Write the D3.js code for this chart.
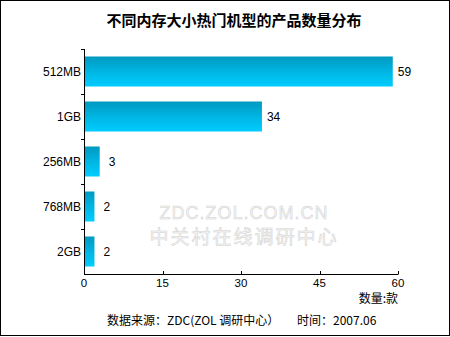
<!DOCTYPE html>
<html>
<head>
<meta charset="utf-8">
<script src="https://cdn.jsdelivr.net/npm/d3@7"></script>
<style>
    body { margin: 0; background: #fff; }
    svg { display: block; }
</style>
</head>
<body>
<div id="chart"></div>
<script>
// Data
const categories = ["512MB", "1GB", "256MB", "768MB", "2GB"];
const values = [59, 34, 3, 2, 2];
const xTicks = [0, 15, 30, 45, 60];

const titleText = "不同内存大小热门机型的产品数量分布";
const unitText = "数量:款";
const sourceText = "数据来源：ZDC(ZOL 调研中心）";
const timeText = "时间：2007.06";
const watermark = ["ZDC.ZOL.COM.CN", "中关村在线调研中心"];

// Meta
const width = 450;
const height = 337;
const plot = { left: 84, right: 398, top: 49, bottom: 274 };
const font = "'Liberation Sans', Arial, 'Noto Sans CJK SC', sans-serif";
const cjk = "'Noto Sans CJK SC', 'Liberation Sans', sans-serif";

const svg = d3.select("#chart")
    .append("svg")
    .attr("width", width)
    .attr("height", height);

// Gradient for bars
const grad = svg.append("defs").append("linearGradient")
    .attr("id", "barGrad")
    .attr("x1", 0).attr("y1", 0).attr("x2", 0).attr("y2", 1);
grad.append("stop").attr("offset", "0%").attr("stop-color", "#0099c0");
grad.append("stop").attr("offset", "55%").attr("stop-color", "#00b8e6");
grad.append("stop").attr("offset", "100%").attr("stop-color", "#00ccff");

// Outer border
svg.append("rect")
    .attr("x", 0.5).attr("y", 0.5)
    .attr("width", width - 1).attr("height", height - 2)
    .attr("fill", "#fff")
    .attr("stroke", "#000");

// Title
svg.append("text")
    .attr("x", 234)
    .attr("y", 26)
    .attr("text-anchor", "middle")
    .style("font-family", cjk)
    .style("font-size", "15px")
    .style("font-weight", "bold")
    .text(titleText);

// Scales
const xScale = d3.scaleLinear()
    .domain([0, 60])
    .range([plot.left, plot.right]);
const yScale = d3.scaleBand()
    .domain(categories)
    .range([plot.top, plot.bottom])
    .paddingInner(1 / 3)
    .paddingOuter(1 / 6);

// Watermark
const wm = svg.append("g");
watermark.forEach((t, i) => {
    wm.append("text")
        .attr("x", 244)
        .attr("y", i == 0 ? 219 : 244)
        .attr("text-anchor", "middle")
        .style("font-family", i == 0 ? font : cjk)
        .style("font-size", i == 0 ? "18px" : "19px")
        .style("letter-spacing", i == 0 ? "1px" : "2px")
        .attr("fill", "#f6f6f6")
        .attr("stroke", "#d0d0d0")
        .attr("stroke-width", 0.5)
        .text(t);
});

// Bars
svg.selectAll(".bar")
    .data(categories)
    .enter()
    .append("rect")
    .attr("class", "bar")
    .attr("x", xScale(0))
    .attr("y", d => yScale(d))
    .attr("width", (d, i) => xScale(values[i]) - xScale(0))
    .attr("height", yScale.bandwidth())
    .attr("fill", "url(#barGrad)");

// Value labels
svg.selectAll(".val")
    .data(categories)
    .enter()
    .append("text")
    .attr("class", "val")
    .attr("x", (d, i) => xScale(values[i]) + (values[i] < 10 ? 9 : 5))
    .attr("y", d => yScale(d) + yScale.bandwidth() / 2)
    .attr("dy", "0.36em")
    .style("font-family", font)
    .style("font-size", "12px")
    .text((d, i) => values[i]);

// Y axis
const yAxis = svg.append("g");
yAxis.append("line")
    .attr("x1", plot.left + 0.5).attr("x2", plot.left + 0.5)
    .attr("y1", plot.top).attr("y2", plot.bottom + 0.5)
    .attr("stroke", "#000");
const yBounds = categories.map(c => yScale(c) - yScale.step() * yScale.paddingOuter());
yAxis.selectAll(".ytick")
    .data(yBounds)
    .enter()
    .append("line")
    .attr("x1", plot.left - 3).attr("x2", plot.left)
    .attr("y1", d => Math.round(d) + 0.5).attr("y2", d => Math.round(d) + 0.5)
    .attr("stroke", "#000");
yAxis.selectAll(".ylab")
    .data(categories)
    .enter()
    .append("text")
    .attr("x", plot.left - 3)
    .attr("y", d => yScale(d) + yScale.bandwidth() / 2)
    .attr("dy", "0.36em")
    .attr("text-anchor", "end")
    .style("font-family", font)
    .style("font-size", "12px")
    .text(d => d);

// X axis
const xAxis = svg.append("g");
xAxis.append("line")
    .attr("x1", plot.left).attr("x2", plot.right + 0.5)
    .attr("y1", plot.bottom + 0.5).attr("y2", plot.bottom + 0.5)
    .attr("stroke", "#000");
xAxis.selectAll(".xtick")
    .data(xTicks)
    .enter()
    .append("line")
    .attr("x1", d => Math.round(xScale(d)) + 0.5).attr("x2", d => Math.round(xScale(d)) + 0.5)
    .attr("y1", plot.bottom - 3).attr("y2", plot.bottom)
    .attr("stroke", "#000");
xAxis.selectAll(".xlab")
    .data(xTicks)
    .enter()
    .append("text")
    .attr("x", d => xScale(d))
    .attr("y", plot.bottom + 13)
    .attr("text-anchor", "middle")
    .style("font-family", font)
    .style("font-size", "11.5px")
    .text(d => d);

// Unit
svg.append("text")
    .attr("x", plot.right)
    .attr("y", 303)
    .attr("text-anchor", "end")
    .style("font-family", cjk)
    .style("font-size", "12px")
    .text(unitText);

// Footer
svg.append("text")
    .attr("x", 107)
    .attr("y", 325)
    .style("font-family", cjk)
    .style("font-size", "12px")
    .text(sourceText);
svg.append("text")
    .attr("x", 297)
    .attr("y", 325)
    .style("font-family", cjk)
    .style("font-size", "12px")
    .text(timeText);
</script>
</body>
</html>
